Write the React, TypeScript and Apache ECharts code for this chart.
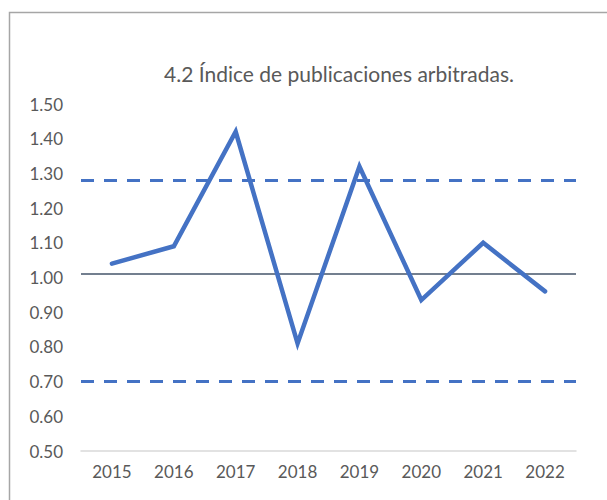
import React, { useEffect, useRef } from "react";
import * as echarts from "echarts";

const titleText = "4.2 Índice de publicaciones arbitradas.";
const years = ["2015", "2016", "2017", "2018", "2019", "2020", "2021", "2022"];
const indexValues = [1.04, 1.09, 1.42, 0.81, 1.32, 0.935, 1.1, 0.96];
const upperLimit = 1.285;
const lowerLimit = 0.7;
const referenceValue = 1.015;
const yMin = 0.5;
const yMax = 1.5;
const yStep = 0.1;

const FONT = "Lato, 'Open Sans', sans-serif";

export default function App() {
  const ref = useRef<HTMLDivElement>(null);
  useEffect(() => {
    if (!ref.current) return;
    const chart = echarts.init(ref.current, null, { renderer: "svg" });
    chart.setOption({
      animation: false,
      backgroundColor: "#ffffff",
      textStyle: { fontFamily: FONT },
      graphic: [
        {
          type: "rect",
          shape: { x: 9.5, y: 12.5, width: 640, height: 540 },
          style: { fill: "none", stroke: "#a6a6a6", lineWidth: 1.5 },
          silent: true,
          z: 0,
        },
        {
          type: "text",
          x: 339,
          y: 73,
          style: {
            text: titleText,
            fill: "#595959",
            font: `21px ${FONT}`,
            textAlign: "center",
            textVerticalAlign: "middle",
          },
        },
      ],
      grid: { left: 81, right: 31, top: 104, bottom: 49, containLabel: false },
      xAxis: {
        type: "category",
        data: years,
        boundaryGap: true,
        axisLine: { show: true, lineStyle: { color: "#d9d9d9", width: 1.5 } },
        axisTick: { show: false },
        axisLabel: { color: "#595959", fontSize: 17, margin: 12, fontFamily: FONT },
        splitLine: { show: false },
      },
      yAxis: {
        type: "value",
        min: yMin,
        max: yMax,
        interval: yStep,
        axisLine: { show: false },
        axisTick: { show: false },
        splitLine: { show: false },
        axisLabel: {
          color: "#595959",
          fontSize: 17,
          margin: 18,
          fontFamily: FONT,
          formatter: (v: number) => v.toFixed(2),
        },
      },
      series: [
        {
          type: "line",
          data: indexValues,
          symbol: "none",
          lineStyle: { color: "#4472C4", width: 4.5, cap: "round", join: "miter" },
          z: 5,
          markLine: {
            silent: true,
            symbol: "none",
            label: { show: false },
            data: [
              { yAxis: upperLimit, lineStyle: { color: "#4472C4", width: 3, type: [13, 10] } },
              { yAxis: lowerLimit, lineStyle: { color: "#4472C4", width: 3, type: [13, 10] } },
              { yAxis: referenceValue, lineStyle: { color: "#44546A", width: 1.5, type: "solid" } },
            ],
          },
        },
      ],
    });
    return () => chart.dispose();
  }, []);
  return (
    <div
      ref={ref}
      style={{ position: "fixed", left: 0, top: 0, width: 607, height: 500 }}
    />
  );
}
